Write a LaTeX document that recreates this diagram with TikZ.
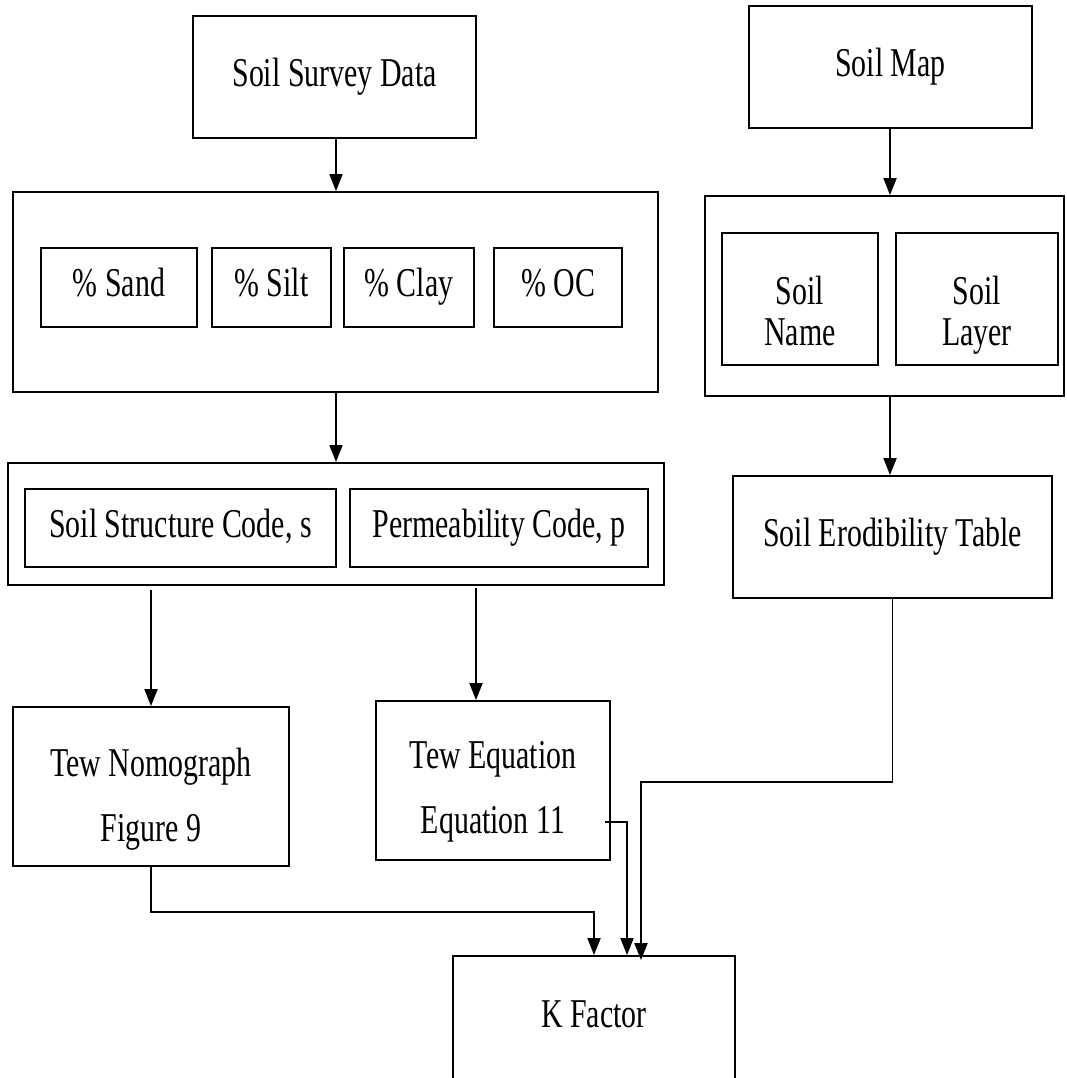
\documentclass[tikz,border=0pt]{standalone}
\usepackage{fontspec}
\setmainfont[FakeStretch=0.73]{Liberation Serif}
\usetikzlibrary{arrows.meta}

\tikzset{
  box/.style={draw,line width=1.1pt,align=center,inner sep=0pt,text height=13pt,text depth=2.6pt},
  boxtext/.style={align=center,inner sep=0pt,anchor=north},
  flow/.style={line width=1.1pt,-{Triangle[length=.34cm,width=.26cm]}}
}

\begin{document}
\begin{tikzpicture}[x=.02cm,y=-.02cm,font=\fontsize{23.3}{23}\selectfont]
  \useasboundingbox (0,0) rectangle (1066,1078);

  % left column: survey data, texture fractions, codes
  \node[box,minimum width=5.66cm,minimum height=2.44cm] (survey) at (334.5,77) {Soil Survey Data};
  \node[box,minimum width=12.9cm,minimum height=4cm] (texture) at (335.5,292) {};
  \node[box,minimum width=3.12cm,minimum height=1.58cm] (sand) at (119,287.5) {\% Sand};
  \node[box,minimum width=2.38cm,minimum height=1.58cm] (silt) at (271.5,287.5) {\% Silt};
  \node[box,minimum width=2.6cm,minimum height=1.58cm] (clay) at (409,287.5) {\% Clay};
  \node[box,minimum width=2.56cm,minimum height=1.58cm] (oc) at (558,287.5) {\% OC};

  \node[box,minimum width=13.12cm,minimum height=2.44cm] (codes) at (336,524) {};
  \node[box,minimum width=6.22cm,minimum height=1.56cm] (struct) at (180.5,528) {Soil Structure Code, s};
  \node[box,minimum width=5.96cm,minimum height=1.56cm] (perm) at (499,528) {Permeability Code, p};

  \node[box,minimum width=5.52cm,minimum height=3.18cm] (nomo) at (151,786.5) {};
  \node[boxtext] (nomotxt) at ([yshift=-.84cm]nomo.north) {Tew Nomograph\\[14pt]Figure 9};
  \node[box,minimum width=4.68cm,minimum height=3.18cm] (eqn) at (493,780.5) {};
  \node[boxtext] (eqntxt) at ([yshift=-.82cm]eqn.north) {Tew Equation\\[14pt]Equation 11};

  % right column: map units
  \node[box,minimum width=5.66cm,minimum height=2.44cm] (map) at (890.5,67) {Soil Map};
  \node[box,minimum width=7.18cm,minimum height=4cm] (layers) at (884.5,296) {};
  \node[box,minimum width=3.12cm,minimum height=2.64cm] (sname) at (800,299) {};
  \node[boxtext] (snametxt) at ([yshift=-.88cm]sname.north) {Soil\\Name};
  \node[box,minimum width=3.24cm,minimum height=2.64cm] (slayer) at (977,299) {};
  \node[boxtext] (slayertxt) at ([yshift=-.88cm]slayer.north) {Soil\\Layer};
  \node[box,minimum width=6.38cm,minimum height=2.44cm] (erod) at (892.5,537) {Soil Erodibility Table};

  \node[box,minimum width=5.64cm,minimum height=2.48cm] (kf) at (594,1018) {K Factor};

  % connectors
  \draw[flow] (survey.south -| 336,0) -- (texture.north -| 336,0);
  \draw[flow] (texture.south -| 336,0) -- (codes.north -| 336,0);
  \draw[flow] (map.south -| 890,0) -- (layers.north -| 890,0);
  \draw[flow] (layers.south -| 890,0) -- (erod.north -| 890,0);
  \draw[flow] ([yshift=-.08cm]nomo.north |- codes.south) -- (nomo.north);
  \draw[flow] ([yshift=-.04cm]codes.south -| 476,0) -- (eqn.north -| 476,0);

  \coordinate (eqtap) at (605,822);
  \coordinate (bend) at (641,782);
  \draw[flow] (nomo.south) -- ++(0,45) -| (kf.north);
  \draw[flow] (eqtap) -| ([xshift=.66cm]kf.north);
  \draw[flow] (erod.south) |- (bend) -- ([yshift=-.1cm]bend |- kf.north);
\end{tikzpicture}
\end{document}
